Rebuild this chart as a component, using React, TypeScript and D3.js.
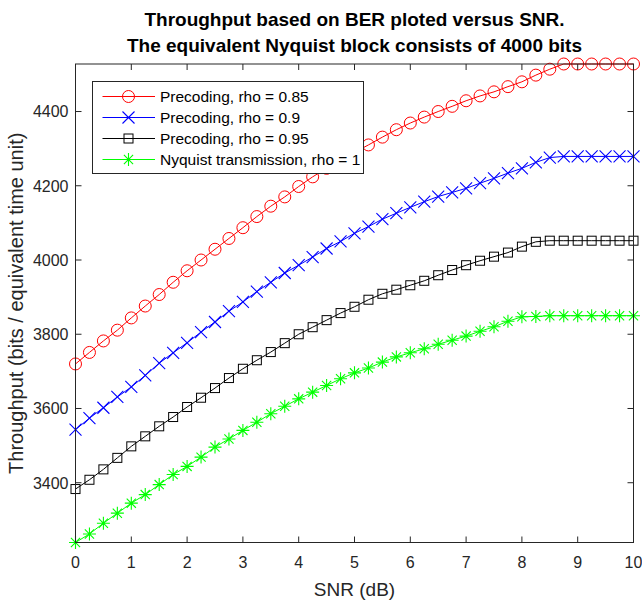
import React from "react";
import * as d3 from "d3";

const snrDb = [0, 0.25, 0.5, 0.75, 1, 1.25, 1.5, 1.75, 2, 2.25, 2.5, 2.75, 3, 3.25, 3.5, 3.75, 4, 4.25, 4.5, 4.75, 5, 5.25, 5.5, 5.75, 6, 6.25, 6.5, 6.75, 7, 7.25, 7.5, 7.75, 8, 8.25, 8.5, 8.75, 9, 9.25, 9.5, 9.75, 10];

const rho085 = [3720, 3751, 3782, 3811, 3844, 3876, 3907, 3940, 3971, 4000, 4029, 4058, 4087, 4117, 4145, 4170, 4198, 4224, 4247, 4269, 4290, 4310, 4331, 4351, 4369, 4385, 4400, 4414, 4429, 4442, 4453, 4467, 4480, 4498, 4514, 4528, 4528, 4528, 4528, 4528, 4528];
const rho09 = [3543, 3574, 3602, 3631, 3658, 3689, 3722, 3750, 3777, 3806, 3833, 3862, 3887, 3915, 3940, 3965, 3986, 4008, 4031, 4050, 4072, 4090, 4110, 4126, 4142, 4157, 4171, 4182, 4193, 4207, 4220, 4234, 4247, 4263, 4276, 4279, 4279, 4279, 4279, 4279, 4279];
const rho095 = [3383, 3408, 3436, 3467, 3498, 3525, 3552, 3577, 3604, 3629, 3655, 3682, 3707, 3730, 3752, 3776, 3800, 3819, 3838, 3857, 3874, 3893, 3909, 3920, 3932, 3944, 3959, 3973, 3986, 3998, 4009, 4020, 4036, 4049, 4052, 4052, 4052, 4052, 4052, 4052, 4052];
const nyquist = [3239, 3262, 3291, 3318, 3345, 3368, 3395, 3422, 3444, 3469, 3496, 3518, 3541, 3563, 3586, 3606, 3626, 3644, 3662, 3680, 3696, 3709, 3725, 3739, 3750, 3761, 3773, 3784, 3795, 3808, 3820, 3835, 3847, 3848, 3850, 3850, 3850, 3850, 3850, 3850, 3850];

const seriesNames = ["Precoding, rho = 0.85", "Precoding, rho = 0.9", "Precoding, rho = 0.95", "Nyquist transmission, rho = 1"];
const seriesColors = ["#ff0000", "#0000ff", "#000000", "#00ff00"];
const seriesMarkers = ["circle", "x", "square", "star"];
const seriesValues = [rho085, rho09, rho095, nyquist];

const xTicks = [0, 1, 2, 3, 4, 5, 6, 7, 8, 9, 10];
const yTicks = [3400, 3600, 3800, 4000, 4200, 4400];

const titleLines = ["Throughput based on BER ploted versus SNR.", "The equivalent Nyquist block consists of 4000 bits"];
const xLabel = "SNR (dB)";
const yLabel = "Throughput (bits / equivalent time unit)";

const W = 642, H = 601;
const L = 75.5, R = 633.5, T = 64, B = 542.5;
const AX = "#262626";
const FONT = "'Liberation Sans', Arial, Helvetica, sans-serif";

function Marker({ type, x, y, color }: { type: string; x: number; y: number; color: string }) {
  if (type === "circle") return <circle cx={x} cy={y} r={6} fill="none" stroke={color} strokeWidth={1} />;
  if (type === "square") return <rect x={x - 4.5} y={y - 4.5} width={9} height={9} fill="none" stroke={color} strokeWidth={1} />;
  if (type === "x") {
    const s = 6;
    return <path d={`M${x - s},${y - s}L${x + s},${y + s}M${x - s},${y + s}L${x + s},${y - s}`} stroke={color} strokeWidth={1.1} fill="none" />;
  }
  const s = 6.5, d = 4.6;
  return (
    <path
      d={`M${x - s},${y}L${x + s},${y}M${x},${y - s}L${x},${y + s}M${x - d},${y - d}L${x + d},${y + d}M${x - d},${y + d}L${x + d},${y - d}`}
      stroke={color}
      strokeWidth={1.1}
      fill="none"
    />
  );
}

export default function App() {
  const all = seriesValues.flat();
  const x = d3.scaleLinear().domain([0, 10]).range([L, R]);
  const y = d3.scaleLinear().domain([d3.min(all)!, d3.max(all)!]).range([B, T]);
  const line = d3.line<number>().x((_, i) => x(snrDb[i])).y((v) => y(v));

  const legX = 92.5, legY = 81.5, legW = 271, legH = 92;
  const rowH = 21;

  return (
    <svg width={W} height={H} style={{ position: "absolute", left: 0, top: 0, background: "#fff" }} fontFamily={FONT}>
      <rect x={0} y={0} width={W} height={H} fill="#fff" />
      {/* title */}
      <text x={(L + R) / 2} y={26} textAnchor="middle" fontWeight="bold" fontSize={19} fill="#000">{titleLines[0]}</text>
      <text x={(L + R) / 2} y={52} textAnchor="middle" fontWeight="bold" fontSize={19} fill="#000">{titleLines[1]}</text>

      {/* series */}
      {seriesValues.map((vals, si) => (
        <g key={si}>
          <path d={line(vals)!} fill="none" stroke={seriesColors[si]} strokeWidth={1} />
          {vals.map((v, i) => (
            <Marker key={i} type={seriesMarkers[si]} x={x(snrDb[i])} y={y(v)} color={seriesColors[si]} />
          ))}
        </g>
      ))}

      {/* axes box */}
      <rect x={L} y={T} width={R - L} height={B - T} fill="none" stroke={AX} strokeWidth={1} />
      {xTicks.map((t) => (
        <g key={"x" + t}>
          <line x1={x(t)} x2={x(t)} y1={B} y2={B - 6} stroke={AX} />
          <line x1={x(t)} x2={x(t)} y1={T} y2={T + 6} stroke={AX} />
          <text x={x(t)} y={568} textAnchor="middle" fontSize={16} fill={AX}>{t}</text>
        </g>
      ))}
      {yTicks.map((t) => (
        <g key={"y" + t}>
          <line x1={L} x2={L + 6} y1={y(t)} y2={y(t)} stroke={AX} />
          <line x1={R} x2={R - 6} y1={y(t)} y2={y(t)} stroke={AX} />
          <text x={68.5} y={y(t) + 5.8} textAnchor="end" fontSize={16} fill={AX}>{t}</text>
        </g>
      ))}
      <text x={(L + R) / 2} y={596} textAnchor="middle" fontSize={19} fill={AX}>{xLabel}</text>
      <text transform={`translate(23,${(T + B) / 2}) rotate(-90)`} textAnchor="middle" fontSize={20} fill={AX}>{yLabel}</text>

      {/* legend */}
      <rect x={legX} y={legY} width={legW} height={legH} fill="#fff" stroke={AX} strokeWidth={1} />
      {seriesNames.map((name, i) => {
        const cy = legY + 15 + i * rowH;
        return (
          <g key={name}>
            <line x1={102.5} x2={155} y1={cy} y2={cy} stroke={seriesColors[i]} strokeWidth={1} />
            <Marker type={seriesMarkers[i]} x={128.5} y={cy} color={seriesColors[i]} />
            <text x={160} y={cy + 5.5} fontSize={15.5} fill="#000">{name}</text>
          </g>
        );
      })}
    </svg>
  );
}
